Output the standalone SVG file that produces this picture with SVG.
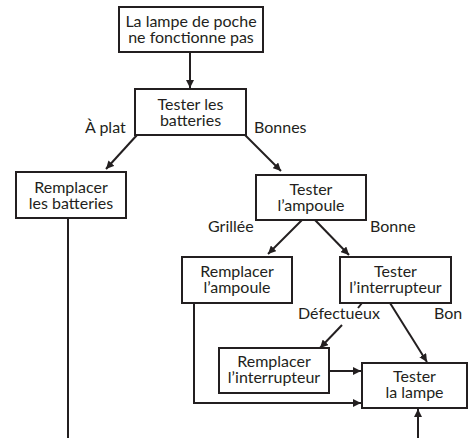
<svg xmlns="http://www.w3.org/2000/svg" width="468" height="438" viewBox="0 0 468 438">
<defs>
<style>
.box{fill:#fff;stroke:#231f20;stroke-width:2}
.t{font-family:Lato,"Liberation Sans",sans-serif;font-size:16px;fill:#231f20;text-anchor:middle}
.l{font-family:Lato,"Liberation Sans",sans-serif;font-size:16px;fill:#231f20}
.c{fill:none;stroke:#231f20;stroke-width:2}
</style>
<marker id="ah" viewBox="0 0 10 10" refX="10" refY="5" markerWidth="4" markerHeight="4" orient="auto" markerUnits="strokeWidth">
<path d="M0,0 L10,5 L0,10 z" fill="#231f20"/>
</marker>
</defs>
<rect width="468" height="438" fill="#fff"/>
<g id="connectors">
<line class="c" x1="190" y1="53" x2="190" y2="88" marker-end="url(#ah)"/>
<line class="c" x1="137" y1="135" x2="106" y2="169" marker-end="url(#ah)"/>
<line class="c" x1="245" y1="135" x2="281" y2="171" marker-end="url(#ah)"/>
<line class="c" x1="68" y1="218" x2="68" y2="438"/>
<line class="c" x1="302" y1="220" x2="268" y2="254" marker-end="url(#ah)"/>
<line class="c" x1="315" y1="220" x2="349" y2="255" marker-end="url(#ah)"/>
<line class="c" x1="362" y1="303" x2="358" y2="308"/>
<line class="c" x1="342" y1="325" x2="320" y2="348" marker-end="url(#ah)"/>
<line class="c" x1="390" y1="303" x2="427" y2="362" marker-end="url(#ah)"/>
<line class="c" x1="330" y1="371" x2="361" y2="371" marker-end="url(#ah)"/>
<polyline class="c" points="194,303 194,403 361,403" marker-end="url(#ah)"/>
<line class="c" x1="418" y1="438" x2="418" y2="409" marker-end="url(#ah)"/>
</g>
<g id="labels">
<text class="l" x="85" y="133">À plat</text>
<text class="l" x="254" y="133">Bonnes</text>
<text class="l" x="208" y="232">Grillée</text>
<text class="l" x="370" y="232">Bonne</text>
<text class="l" x="298" y="319">Défectueux</text>
<text class="l" x="434" y="319">Bon</text>
</g>
<g id="start">
<rect class="box" x="119" y="7" width="144" height="45"/>
<text class="t" x="191" y="27">La lampe de poche</text>
<text class="t" x="191" y="43">ne fonctionne pas</text>
</g>
<g id="test-batteries">
<rect class="box" x="135" y="89" width="111" height="46"/>
<text class="t" x="190.5" y="110">Tester les</text>
<text class="t" x="190.5" y="126">batteries</text>
</g>
<g id="replace-batteries">
<rect class="box" x="16" y="172" width="110" height="46"/>
<text class="t" x="71" y="193">Remplacer</text>
<text class="t" x="71" y="209">les batteries</text>
</g>
<g id="test-bulb">
<rect class="box" x="256" y="175" width="110" height="45"/>
<text class="t" x="311" y="195">Tester</text>
<text class="t" x="311" y="211">l’ampoule</text>
</g>
<g id="replace-bulb">
<rect class="box" x="182" y="257" width="110" height="46"/>
<text class="t" x="237" y="277">Remplacer</text>
<text class="t" x="237" y="293">l’ampoule</text>
</g>
<g id="test-switch">
<rect class="box" x="340" y="257" width="111" height="46"/>
<text class="t" x="395.5" y="277">Tester</text>
<text class="t" x="395.5" y="293">l’interrupteur</text>
</g>
<g id="replace-switch">
<rect class="box" x="219" y="348" width="110" height="45"/>
<text class="t" x="274" y="367">Remplacer</text>
<text class="t" x="274" y="383">l’interrupteur</text>
</g>
<g id="test-lamp">
<rect class="box" x="362" y="363" width="105" height="45"/>
<text class="t" x="414.5" y="382">Tester</text>
<text class="t" x="414.5" y="398">la lampe</text>
</g>
</svg>
